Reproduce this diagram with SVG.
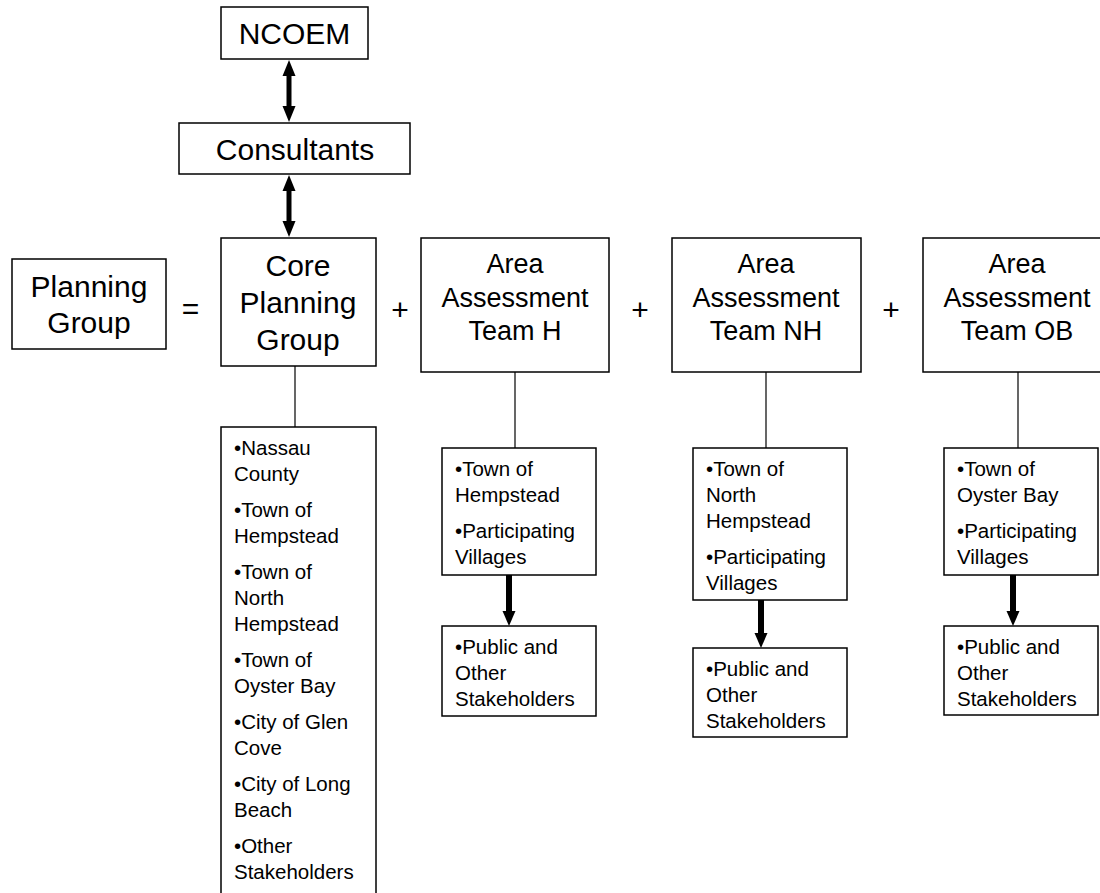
<svg xmlns="http://www.w3.org/2000/svg" width="1100" height="893" viewBox="0 0 1100 893">
<defs>
<style>
.box{fill:#fff;stroke:#000;stroke-width:1.5}
.big{font-family:"Liberation Sans",Arial,sans-serif;font-size:30px;fill:#000;text-anchor:middle}
.area{font-family:"Liberation Sans",Arial,sans-serif;font-size:27px;fill:#000;text-anchor:middle}
.sm{font-family:"Liberation Sans",Arial,sans-serif;font-size:20.5px;fill:#000}
.thin{stroke:#000;stroke-width:1.2;fill:none}
.thick{stroke:#000;stroke-width:5;fill:none}
.thick2{stroke:#000;stroke-width:6;fill:none}
</style>
<marker id="ah" viewBox="0 -7 16 14" markerWidth="16" markerHeight="14" refX="1" refY="0" markerUnits="userSpaceOnUse" orient="auto-start-reverse">
<path d="M0,-6.5 L16,0 L0,6.5 z" fill="#000"/>
</marker>
<marker id="ah2" viewBox="0 -7 15 14" markerWidth="15" markerHeight="14" refX="1" refY="0" markerUnits="userSpaceOnUse" orient="auto">
<path d="M0,-6.5 L15,0 L0,6.5 z" fill="#000"/>
</marker>
</defs>
<rect width="1100" height="893" fill="#fff"/>

<g id="connectors">
<line class="thick" x1="289" y1="75" x2="289" y2="107" marker-start="url(#ah)" marker-end="url(#ah)"/>
<line class="thick" x1="289" y1="190" x2="289" y2="222" marker-start="url(#ah)" marker-end="url(#ah)"/>
<line class="thin" x1="295" y1="366" x2="295" y2="427"/>
<line class="thin" x1="515" y1="372" x2="515" y2="448"/>
<line class="thin" x1="766" y1="372" x2="766" y2="448"/>
<line class="thin" x1="1018" y1="372" x2="1018" y2="448"/>
<line class="thick2" x1="509" y1="575" x2="509" y2="612" marker-end="url(#ah2)"/>
<line class="thick2" x1="761" y1="600" x2="761" y2="634" marker-end="url(#ah2)"/>
<line class="thick2" x1="1013" y1="575" x2="1013" y2="612" marker-end="url(#ah2)"/>
</g>

<g id="ncoem">
<rect class="box" x="221" y="7" width="147" height="52"/>
<text class="big" x="294.5" y="44">NCOEM</text>
</g>

<g id="consultants">
<rect class="box" x="179" y="123" width="231" height="51"/>
<text class="big" x="295" y="160">Consultants</text>
</g>

<g id="planning-group">
<rect class="box" x="12" y="259" width="154" height="90"/>
<text class="big" x="89" y="296.5">Planning</text>
<text class="big" x="89" y="332.5">Group</text>
</g>

<g id="operators">
<text class="big" x="190.5" y="319">=</text>
<text class="big" x="400" y="320">+</text>
<text class="big" x="640" y="320">+</text>
<text class="big" x="891" y="320">+</text>
</g>

<g id="core-planning-group">
<rect class="box" x="221" y="238" width="155" height="128"/>
<text class="big" x="298" y="276">Core</text>
<text class="big" x="298" y="313">Planning</text>
<text class="big" x="298" y="350">Group</text>
</g>

<g id="team-h">
<rect class="box" x="421" y="238" width="188" height="134"/>
<text class="area" x="515" y="273">Area</text>
<text class="area" x="515" y="306.5">Assessment</text>
<text class="area" x="515" y="340">Team H</text>
</g>

<g id="team-nh">
<rect class="box" x="672" y="238" width="189" height="134"/>
<text class="area" x="766" y="273">Area</text>
<text class="area" x="766" y="306.5">Assessment</text>
<text class="area" x="766" y="340">Team NH</text>
</g>

<g id="team-ob">
<rect class="box" x="923" y="238" width="189" height="134"/>
<text class="area" x="1017" y="273">Area</text>
<text class="area" x="1017" y="306.5">Assessment</text>
<text class="area" x="1017" y="340">Team OB</text>
</g>

<g id="core-members">
<rect class="box" x="221" y="427" width="155" height="480"/>
<text class="sm" x="234">
<tspan x="234" y="455">•Nassau</tspan>
<tspan x="234" y="481">County</tspan>
<tspan x="234" y="517">•Town of</tspan>
<tspan x="234" y="543">Hempstead</tspan>
<tspan x="234" y="579">•Town of</tspan>
<tspan x="234" y="605">North</tspan>
<tspan x="234" y="631">Hempstead</tspan>
<tspan x="234" y="667">•Town of</tspan>
<tspan x="234" y="693">Oyster Bay</tspan>
<tspan x="234" y="729">•City of Glen</tspan>
<tspan x="234" y="755">Cove</tspan>
<tspan x="234" y="791">•City of Long</tspan>
<tspan x="234" y="817">Beach</tspan>
<tspan x="234" y="853">•Other</tspan>
<tspan x="234" y="879">Stakeholders</tspan>
</text>
</g>

<g id="h-members">
<rect class="box" x="442" y="448" width="154" height="127"/>
<text class="sm">
<tspan x="455" y="476">•Town of</tspan>
<tspan x="455" y="502">Hempstead</tspan>
<tspan x="455" y="538">•Participating</tspan>
<tspan x="455" y="564">Villages</tspan>
</text>
</g>

<g id="h-public">
<rect class="box" x="442" y="626" width="154" height="90"/>
<text class="sm">
<tspan x="455" y="654">•Public and</tspan>
<tspan x="455" y="680">Other</tspan>
<tspan x="455" y="706">Stakeholders</tspan>
</text>
</g>

<g id="nh-members">
<rect class="box" x="693" y="448" width="154" height="152"/>
<text class="sm">
<tspan x="706" y="476">•Town of</tspan>
<tspan x="706" y="502">North</tspan>
<tspan x="706" y="528">Hempstead</tspan>
<tspan x="706" y="564">•Participating</tspan>
<tspan x="706" y="590">Villages</tspan>
</text>
</g>

<g id="nh-public">
<rect class="box" x="693" y="648" width="154" height="89"/>
<text class="sm">
<tspan x="706" y="676">•Public and</tspan>
<tspan x="706" y="702">Other</tspan>
<tspan x="706" y="728">Stakeholders</tspan>
</text>
</g>

<g id="ob-members">
<rect class="box" x="944" y="448" width="154" height="127"/>
<text class="sm">
<tspan x="957" y="476">•Town of</tspan>
<tspan x="957" y="502">Oyster Bay</tspan>
<tspan x="957" y="538">•Participating</tspan>
<tspan x="957" y="564">Villages</tspan>
</text>
</g>

<g id="ob-public">
<rect class="box" x="944" y="626" width="154" height="89"/>
<text class="sm">
<tspan x="957" y="654">•Public and</tspan>
<tspan x="957" y="680">Other</tspan>
<tspan x="957" y="706">Stakeholders</tspan>
</text>
</g>
</svg>
